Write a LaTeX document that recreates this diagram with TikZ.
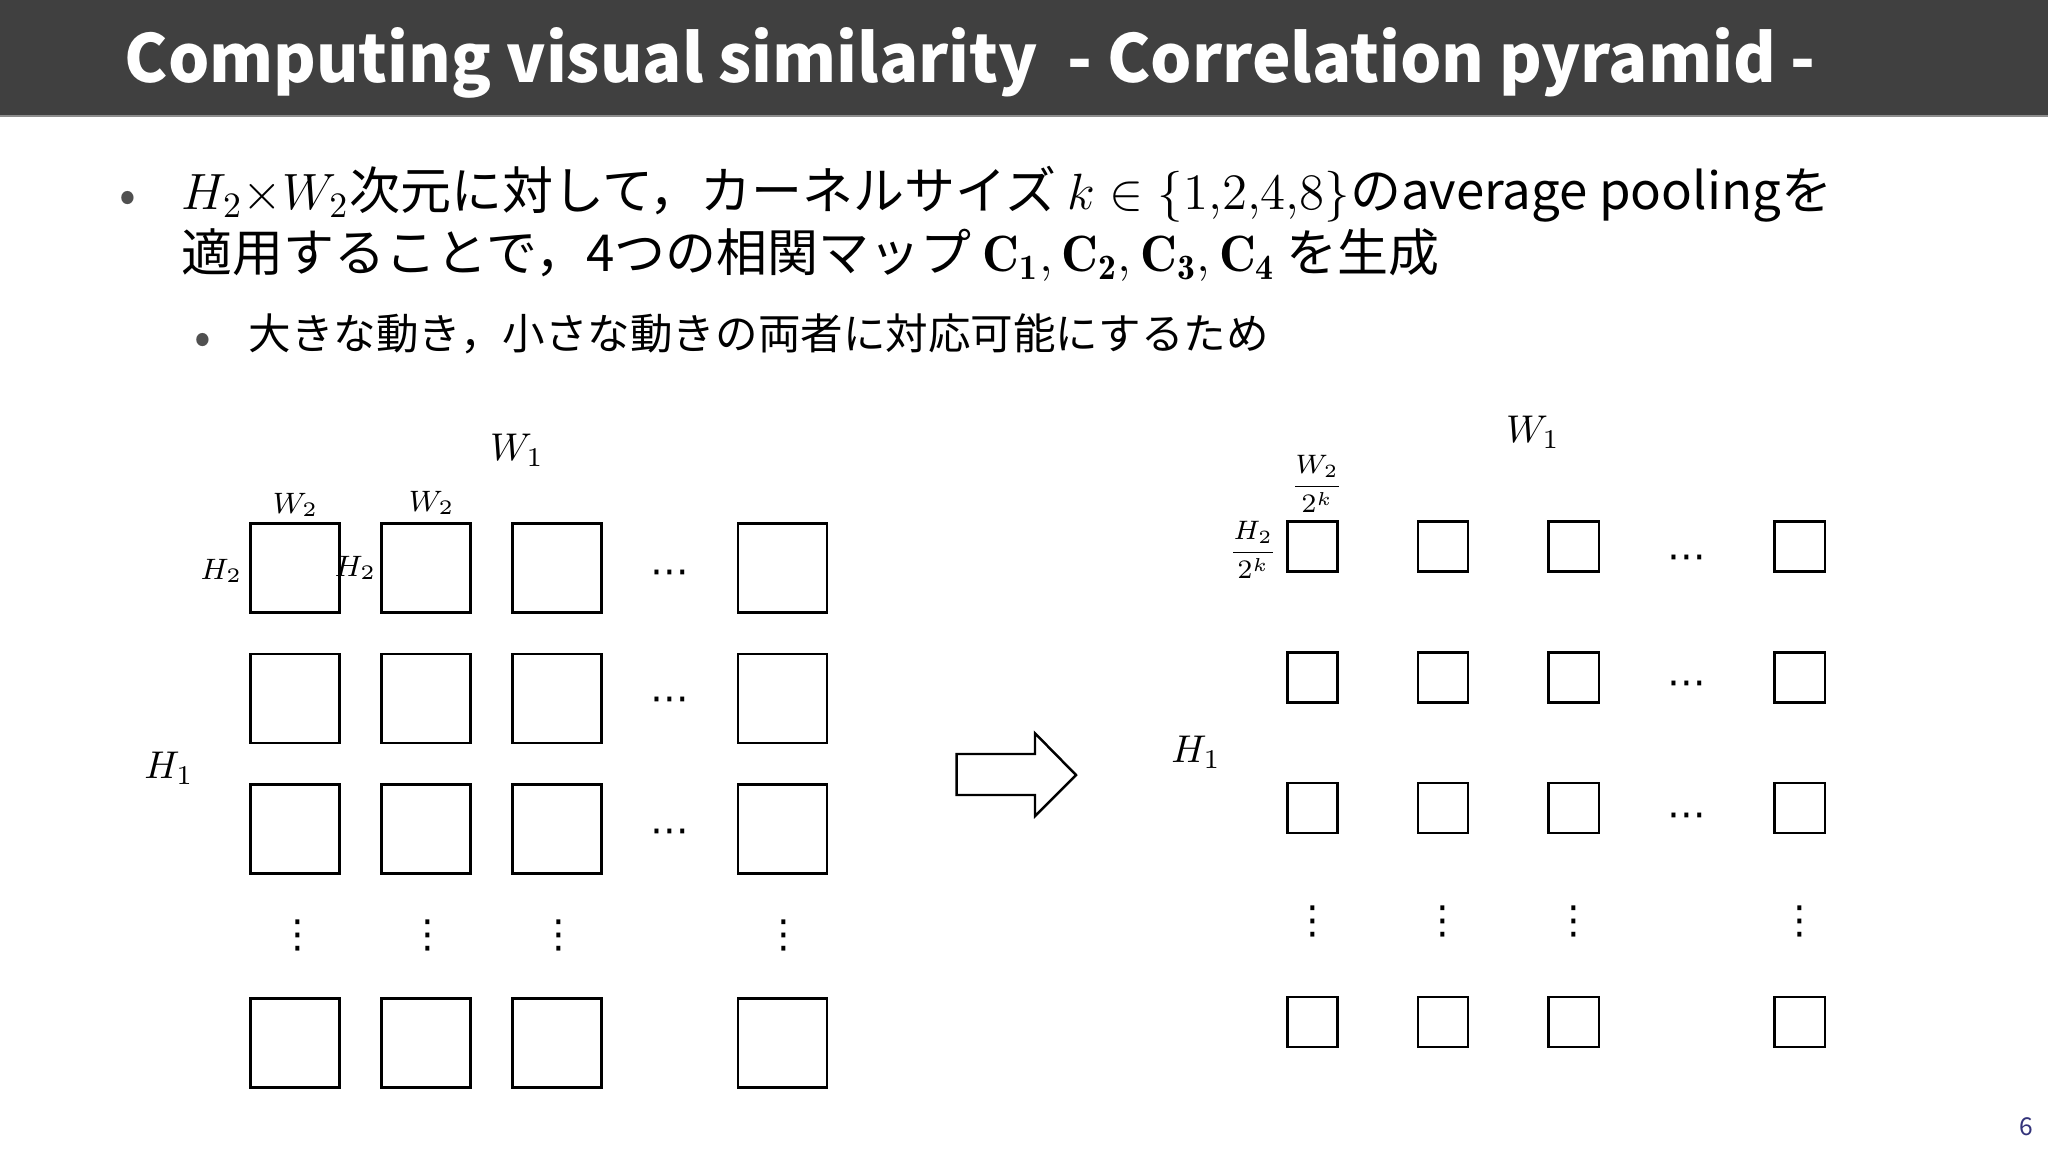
\RequirePackage{fix-cm}
\documentclass[tikz,border=0pt]{standalone}
\usepackage{amsmath}
\usepackage{fontspec}
\usepackage{graphicx}
\newfontfamily\jp{Noto Sans CJK JP}
\newfontfamily\dvs{DejaVu Sans}
\definecolor{barcol}{HTML}{404040}
\definecolor{bulcol}{HTML}{505050}
\definecolor{pagecol}{HTML}{33337A}
\newcommand\myBody{\jp\fontsize{14.5pt}{17pt}\selectfont}
\newcommand\mySub{\jp\fontsize{12.1pt}{14pt}\selectfont}
\begin{document}
\begin{tikzpicture}[x=0.01cm,y=-0.01cm,
  cell/.style={draw=black,line width=0.7pt,minimum size=0.89cm,inner sep=0pt},
  scell/.style={draw=black,line width=0.7pt,minimum size=0.50cm,inner sep=0pt},
  bul/.style={text=bulcol,inner sep=0pt,font=\jp\fontsize{14pt}{16pt}\selectfont},
  line/.style={anchor=base west,inner sep=0pt},
  lblS/.style={inner sep=0pt,font=\fontsize{8.4pt}{10pt}\selectfont},
  lblM/.style={inner sep=0pt,font=\fontsize{11pt}{13pt}\selectfont},
  lblF/.style={inner sep=0pt,font=\fontsize{7.6pt}{9pt}\selectfont},
  hdot/.style={inner sep=0pt,font=\dvs\fontsize{11pt}{13pt}\selectfont},
  vdot/.style={inner sep=0pt,font=\dvs\fontsize{11pt}{13pt}\selectfont}]
\fill[white] (0,0) rectangle (2048,1152);
\useasboundingbox (0,0) rectangle (2048,1152);
% title bar
\fill[barcol] (0,0) rectangle (2048,115);
\fill[black!45] (0,115) rectangle (2048,117);
\node[anchor=base west,inner sep=0pt,text=white] (title) at (124,83)
  {\resizebox{16.9cm}{0.55cm}{\jp\bfseries Computing visual similarity\ \ - Correlation pyramid -}};
% bullets
\node[bul] (b1) at (128,202) {•};
\node[line,font=\myBody] (l1) at (181,210)
  {$H_2{\times}W_2$次元に対して，カーネルサイズ $k\in\{1{,}2{,}4{,}8\}$のaverage poolingを};
\node[line,font=\myBody] (l2) at (181,271.5)
  {適用することで，4つの相関マップ $\mathbf{C}_\mathbf{1},\mathbf{C}_\mathbf{2},\mathbf{C}_\mathbf{3},\mathbf{C}_\mathbf{4}$ を生成};
\node[bul] (b2) at (203,344) {•};
\node[line,font=\mySub] (l3) at (248,350)
  {大きな動き，小さな動きの両者に対応可能にするため};
% left grid
\foreach \r/\y in {1/568,2/698.5,3/829,5/1043}{
  \foreach \c/\x in {1/295,2/426,3/557,5/782.5}{
    \node[cell] (L-\r-\c) at (\x,\y) {};
  }
}
% right grid
\foreach \r/\y in {1/546.7,2/677.5,3/808,5/1022}{
  \foreach \c/\x in {1/1312.5,2/1443,3/1573.7,5/1799.7}{
    \node[scell] (R-\r-\c) at (\x,\y) {};
  }
}
% left dots
\node[hdot] (Ld1) at (669.5,577) {⋯};
\node[hdot] (Ld2) at (669.5,704) {⋯};
\node[hdot] (Ld3) at (669.5,836) {⋯};
\node[vdot] (Lv1) at (298,935) {⋮};
\node[vdot] (Lv2) at (428,935) {⋮};
\node[vdot] (Lv3) at (559,935) {⋮};
\node[vdot] (Lv5) at (784,935) {⋮};
% right dots
\node[hdot] (Rd1) at (1687,562) {⋯};
\node[hdot] (Rd2) at (1687,688) {⋯};
\node[hdot] (Rd3) at (1687,820) {⋯};
\node[vdot] (Rv1) at (1312.5,921) {⋮};
\node[vdot] (Rv2) at (1443,921) {⋮};
\node[vdot] (Rv3) at (1573.7,921) {⋮};
\node[vdot] (Rv5) at (1799.7,921) {⋮};
% left labels
\node[lblM] (W1a) at (517,450) {$W_1$};
\node[lblM] (H1a) at (169,768) {$H_1$};
\node[lblS] (W2a) at (295.5,505) {$W_2$};
\node[lblS] (W2b) at (431.7,503) {$W_2$};
\node[lblS,anchor=east] (H2a) at (243,571) {$H_2$};
\node[lblS,anchor=east] (H2b) at (377,568) {$H_2$};
% right labels
\node[lblM] (W1b) at (1533,432) {$W_1$};
\node[lblM] (H1b) at (1196,752) {$H_1$};
\node[lblF] (W2c) at (1317,484) {$\dfrac{W_2}{2^k}$};
\node[lblF] (H2c) at (1253,550) {$\dfrac{H_2}{2^k}$};
% block arrow
\draw[line width=0.7pt,line join=miter] (956.7,754) -- (1035,754) -- (1035,733.3) -- (1076,775)
  -- (1035,816) -- (1035,795) -- (956.7,795) -- cycle;
% page number
\node[inner sep=0pt,text=pagecol,font=\jp\fontsize{7pt}{9pt}\selectfont] (pg) at (2026,1127) {6};
\end{tikzpicture}
\end{document}
